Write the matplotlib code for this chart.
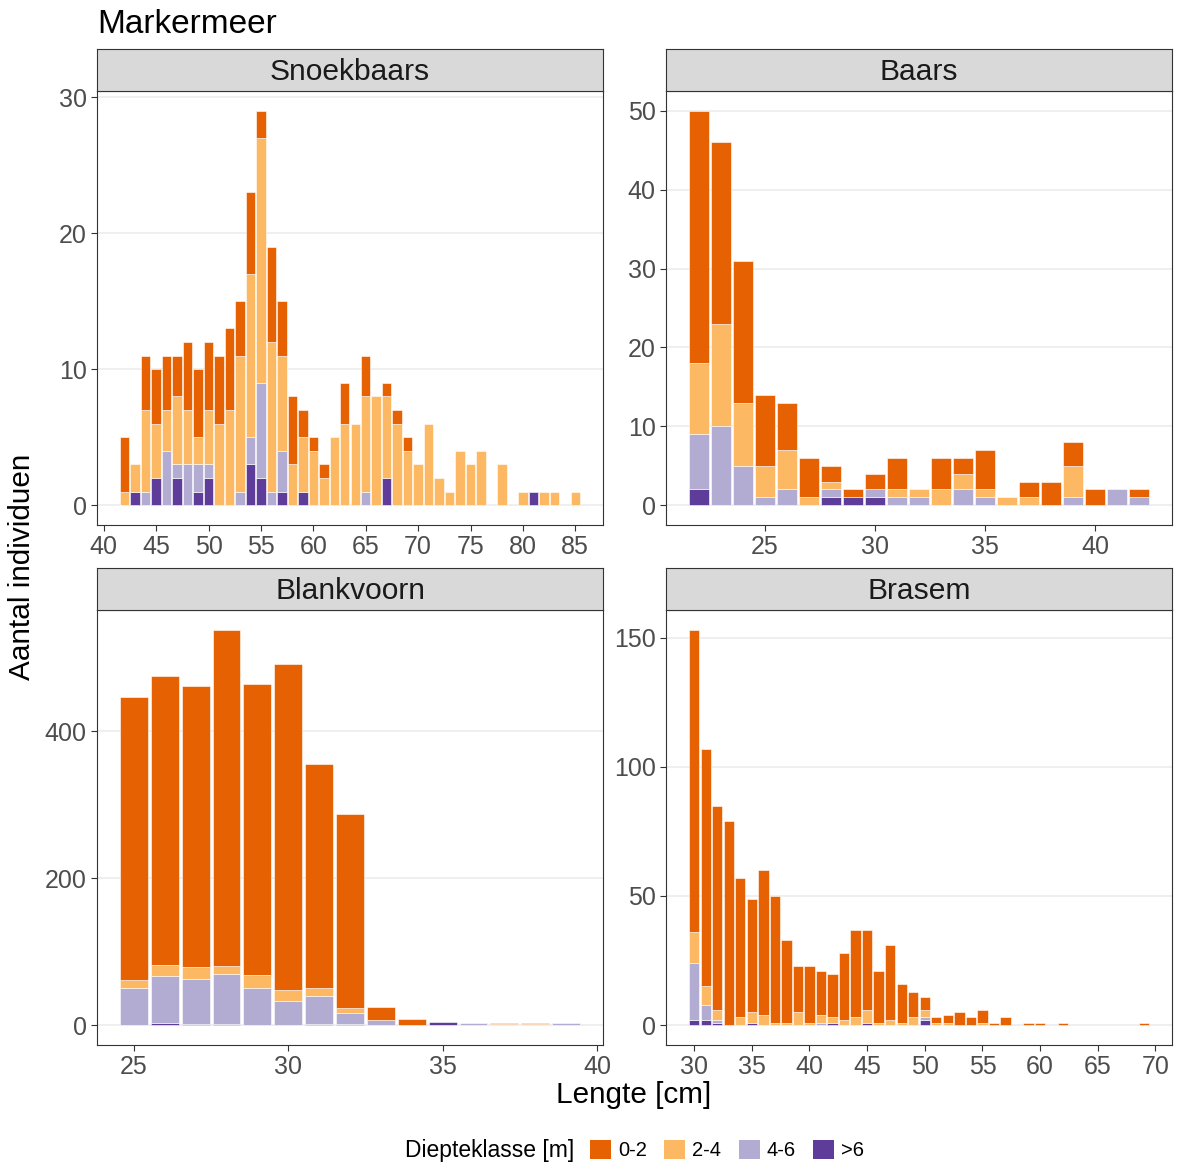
import matplotlib
matplotlib.use("Agg")
import matplotlib.pyplot as plt
from matplotlib.patches import Patch
import numpy as np

plt.rcParams['font.family'] = ['Liberation Sans', 'DejaVu Sans']

klassen = ['0-2', '2-4', '4-6', '>6']
kleuren = ['#E66101', '#FDB863', '#B2ABD2', '#5E3C99']

# Snoekbaars, 42..85 cm
snoek_lengte = list(range(42, 86))
snoek_02 = [4, 0, 4, 4, 4, 3, 5, 5, 5, 5, 6, 4, 6, 2, 7, 4, 5, 2, 1, 1, 0, 3,
            0, 3, 0, 1, 1, 1, 0, 0, 0, 0, 0, 0, 0, 0, 0, 0, 0, 0, 0, 0, 0, 0]
snoek_24 = [1, 2, 6, 4, 3, 5, 4, 2, 4, 6, 7, 10, 12, 18, 11, 7, 3, 4, 4, 2, 5, 6,
            6, 7, 8, 6, 6, 4, 3, 6, 2, 1, 4, 3, 4, 0, 3, 0, 1, 0, 1, 1, 0, 1]
snoek_46 = [0, 0, 1, 0, 4, 1, 3, 2, 1, 0, 0, 1, 2, 7, 1, 3, 0, 0, 0, 0, 0, 0,
            0, 1, 0, 0, 0, 0, 0, 0, 0, 0, 0, 0, 0, 0, 0, 0, 0, 0, 0, 0, 0, 0]
snoek_6p = [0, 1, 0, 2, 0, 2, 0, 1, 2, 0, 0, 0, 3, 2, 0, 1, 0, 1, 0, 0, 0, 0,
            0, 0, 0, 2, 0, 0, 0, 0, 0, 0, 0, 0, 0, 0, 0, 0, 0, 1, 0, 0, 0, 0]

# Baars, 22..42 cm
baars_lengte = list(range(22, 43))
baars_02 = [32, 23, 18, 9, 6, 5, 2, 1, 2, 4, 0, 4, 2, 5, 0, 2, 3, 3, 2, 0, 1]
baars_24 = [9, 13, 8, 4, 5, 1, 1, 0, 0, 1, 1, 2, 2, 1, 1, 1, 0, 4, 0, 0, 0]
baars_46 = [7, 10, 5, 1, 2, 0, 1, 0, 1, 1, 1, 0, 2, 1, 0, 0, 0, 1, 0, 2, 1]
baars_6p = [2, 0, 0, 0, 0, 0, 1, 1, 1, 0, 0, 0, 0, 0, 0, 0, 0, 0, 0, 0, 0]

# Blankvoorn, 25..39 cm
blank_lengte = list(range(25, 40))
blank_02 = [385, 393, 383, 457, 395, 444, 306, 264, 18, 9, 0, 0, 1, 1, 0]
blank_24 = [12, 15, 16, 11, 19, 15, 10, 8, 0, 0, 0, 0, 2, 2, 0]
blank_46 = [50, 64, 61, 68, 50, 33, 38, 14, 7, 0, 0, 3, 0, 0, 3]
blank_6p = [0, 3, 2, 2, 0, 0, 2, 2, 0, 0, 4, 0, 0, 0, 0]

# Brasem, 30..69 cm
brasem_lengte = list(range(30, 70))
brasem_02 = [117, 92, 79, 79, 54, 44, 56, 49, 32, 18, 22, 17, 17, 26, 34, 31, 20, 29, 15, 10,
             5, 2, 3, 5, 3, 5, 1, 3, 0, 1, 1, 0, 1, 0, 0, 0, 0, 0, 0, 1]
brasem_24 = [12, 7, 4, 0, 3, 4, 4, 1, 1, 5, 1, 3, 2, 2, 3, 5, 1, 2, 1, 3,
             3, 1, 1, 0, 0, 1, 0, 0, 0, 0, 0, 0, 0, 0, 0, 0, 0, 0, 0, 0]
brasem_46 = [22, 6, 1, 0, 0, 0, 0, 0, 0, 0, 0, 1, 0, 0, 0, 0, 0, 0, 0, 0,
             1, 0, 0, 0, 0, 0, 0, 0, 0, 0, 0, 0, 0, 0, 0, 0, 0, 0, 0, 0]
brasem_6p = [2, 2, 1, 0, 0, 1, 0, 0, 0, 0, 0, 0, 1, 0, 0, 1, 0, 0, 0, 0,
             2, 0, 0, 0, 0, 0, 0, 0, 0, 0, 0, 0, 0, 0, 0, 0, 0, 0, 0, 0]

W, H = 1178, 1164
fig = plt.figure(figsize=(W / 100, H / 100), dpi=100)


def px_axes(x0, y0, x1, y1):
    return fig.add_axes([x0 / W, 1 - y1 / H, (x1 - x0) / W, (y1 - y0) / H])


def panel(box, naam, lengte, reeksen, xticks, yticks):
    x0, y0, x1, y1 = box
    ax = px_axes(x0, y0 + 42, x1, y1)
    lengte = np.array(lengte)
    bottom = np.zeros(len(lengte))
    # ggplot stapelt eerste klasse bovenaan -> van >6 naar boven
    for vals, kleur in reversed(list(zip(reeksen, kleuren))):
        vals = np.array(vals, dtype=float)
        m = vals > 0
        ax.bar(lengte[m], vals[m], width=0.9, bottom=bottom[m], color=kleur,
               edgecolor='white', linewidth=0.4, zorder=2)
        bottom += vals
    lo, hi = lengte.min() - 0.45, lengte.max() + 0.45
    pad = 0.05 * (hi - lo)
    ax.set_xlim(lo - pad, hi + pad)
    top = bottom.max()
    ax.set_ylim(-0.05 * top, 1.05 * top)
    ax.set_xticks(xticks)
    ax.set_yticks(yticks)
    ax.yaxis.grid(True, color='#EBEBEB', linewidth=1.1, zorder=0)
    ax.set_axisbelow(True)
    ax.tick_params(labelsize=18, color='#333333', labelcolor='#4D4D4D',
                   length=4.5, width=0.8, pad=3)
    for s in ax.spines.values():
        s.set_color('#333333')
        s.set_linewidth(0.8)

    st = px_axes(x0, y0, x1, y0 + 42)
    st.set_facecolor('#D9D9D9')
    st.set_xticks([])
    st.set_yticks([])
    for s in st.spines.values():
        s.set_color('#333333')
        s.set_linewidth(0.8)
    st.text(0.5, 0.45, naam, ha='center', va='center', fontsize=21.6,
            color='#1A1A1A', transform=st.transAxes)
    return ax


panel((97, 49, 603, 525), 'Snoekbaars', snoek_lengte,
      [snoek_02, snoek_24, snoek_46, snoek_6p], range(40, 86, 5), [0, 10, 20, 30])
panel((666, 49, 1172, 525), 'Baars', baars_lengte,
      [baars_02, baars_24, baars_46, baars_6p], [25, 30, 35, 40], range(0, 51, 10))
panel((97, 568, 603, 1045), 'Blankvoorn', blank_lengte,
      [blank_02, blank_24, blank_46, blank_6p], [25, 30, 35, 40], [0, 200, 400])
panel((666, 568, 1172, 1045), 'Brasem', brasem_lengte,
      [brasem_02, brasem_24, brasem_46, brasem_6p], range(30, 71, 5), [0, 50, 100, 150])

fig.text(97 / W, 1 - 33 / H, 'Markermeer', fontsize=24, color='black',
         ha='left', va='baseline')
fig.text(22 / W, 1 - 567 / H, 'Aantal individuen', fontsize=21.4, rotation=90,
         ha='center', va='center')
fig.text(634 / W, 1 - 1095 / H, 'Lengte [cm]', fontsize=21.4,
         ha='center', va='center')

fig.text(405 / W, 1 - 1150 / H, 'Diepteklasse [m]', fontsize=16.5,
         ha='left', va='center')
handles = [Patch(facecolor=k, edgecolor='none') for k in kleuren]
fig.legend(handles, klassen, loc='center left', bbox_to_anchor=(590 / W, 1 - 1150 / H),
           ncol=4, frameon=False, fontsize=14.5, handlelength=1.05, handleheight=1.05,
           handletextpad=0.35, columnspacing=0.85, borderpad=0, borderaxespad=0)

fig.savefig('out.png', dpi=100)
